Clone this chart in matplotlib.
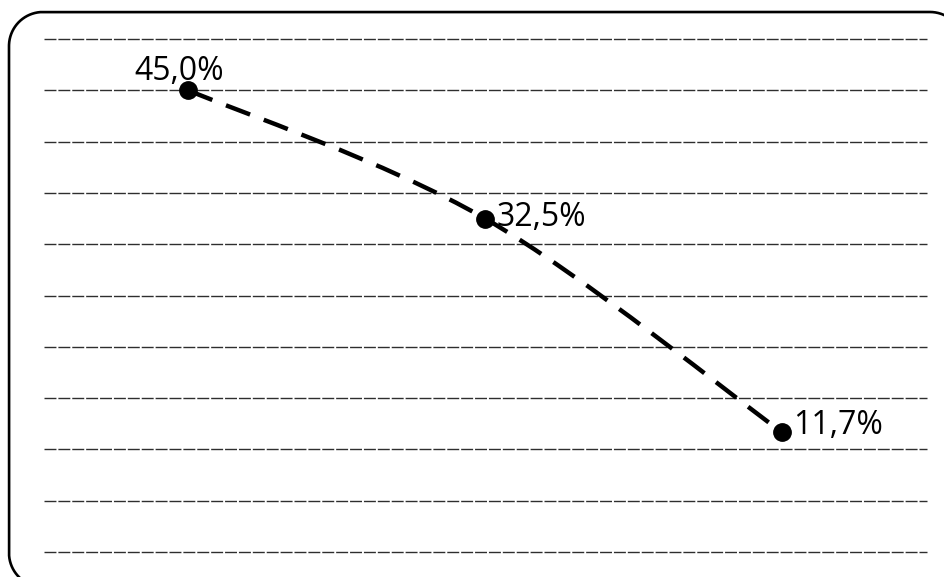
import numpy as np
import matplotlib.pyplot as plt
from matplotlib.patches import PathPatch
from matplotlib.path import Path

categories = ["A", "B", "C"]
values = [45.0, 32.5, 11.7]
labels = ["45,0%", "32,5%", "11,7%"]
grid_values = list(range(0, 51, 5))

plt.rcParams['font.family'] = ['Open Sans', 'DejaVu Sans']
plt.rcParams['savefig.bbox'] = 'standard'

fig = plt.figure(figsize=(9.45, 5.77), dpi=100)
W, H = 945, 577

# background axes in pixel units for the rounded frame
bg = fig.add_axes([0, 0, 1, 1])
bg.set_xlim(0, W)
bg.set_ylim(0, H)
bg.axis('off')
L, T, R, B, r = 9, 12, 964, 587, 34
corners = [((R - r, H - T - r), 0), ((L + r, H - T - r), 90),
           ((L + r, H - B + r), 180), ((R - r, H - B + r), 270)]
fx, fy = [], []
for (cx, cy), a0 in corners:
    th = np.radians(np.linspace(a0, a0 + 90, 40))
    fx += list(cx + r * np.cos(th))
    fy += list(cy + r * np.sin(th))
bg.plot(fx, fy, color='black', linewidth=1.9, solid_joinstyle='round')

ax = fig.add_axes([44 / W, 1 - 552 / H, (927 - 44) / W, (552 - 39) / H])
ax.patch.set_alpha(0)

for g in grid_values:
    ax.axhline(g, color='#2e2e2e', linewidth=1.0, dashes=(8.6, 1.4), zorder=1,
               clip_on=False)

x = np.arange(len(categories))
y = np.array(values)

# smooth curve through the points (Catmull-Rom style Bezier)
verts = [(x[0], y[0])]
codes = [Path.MOVETO]
t = 0.5
for i in range(len(x) - 1):
    p0 = (x[i - 1], y[i - 1]) if i > 0 else (x[i], y[i])
    p1 = (x[i], y[i])
    p2 = (x[i + 1], y[i + 1])
    p3 = (x[i + 2], y[i + 2]) if i + 2 < len(x) else p2
    c1 = (p1[0] + (p2[0] - p0[0]) * t / 3, p1[1] + (p2[1] - p0[1]) * t / 3)
    c2 = (p2[0] - (p3[0] - p1[0]) * t / 3, p2[1] - (p3[1] - p1[1]) * t / 3)
    verts += [c1, c2, p2]
    codes += [Path.CURVE4] * 3
curve = PathPatch(Path(verts, codes), fill=False, edgecolor='black',
                  linewidth=3.2, linestyle=(0, (5.8, 3.3)), zorder=3)
ax.add_patch(curve)
ax.plot(x, y, 'o', color='black', markersize=12.5, zorder=4)

ax.annotate(labels[0], (x[0], y[0]), xytext=(-7, 2), textcoords='offset points',
            ha='center', va='bottom', fontsize=23)
ax.annotate(labels[1], (x[1], y[1]), xytext=(8, 1), textcoords='offset points',
            ha='left', va='center', fontsize=23)
ax.annotate(labels[2], (x[2], y[2]), xytext=(8, 5), textcoords='offset points',
            ha='left', va='center', fontsize=23)

ax.set_xlim(-0.487, 2.49)
ax.set_ylim(0, 50)
ax.axis('off')

fig.savefig('out.png', dpi=100)
